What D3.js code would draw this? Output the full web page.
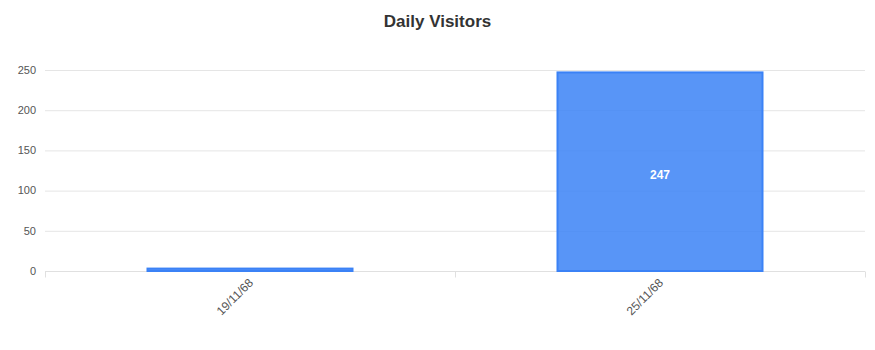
<!DOCTYPE html>
<html>
<head>
<meta charset="utf-8">
<script src="https://cdn.jsdelivr.net/npm/d3@7"></script>
<style>
  body { margin: 0; background: #fff; }
  text { font-family: "Liberation Sans", Arial, sans-serif; }
</style>
</head>
<body>
<svg id="chart"></svg>
<script>
let dates = ["19/11/68", "25/11/68"];
let visitors = [3, 247];
let yTicks = [0, 50, 100, 150, 200, 250];

let width = 875;
let height = 350;
let margin = { top: 70, right: 10, bottom: 79, left: 45 };

let svg = d3.select("#chart").attr("width", width).attr("height", height);

svg.append("text")
  .attr("x", width / 2)
  .attr("y", 27)
  .attr("text-anchor", "middle")
  .attr("font-size", 17)
  .attr("font-weight", "bold")
  .attr("fill", "#333")
  .text("Daily Visitors");

let xScale = d3.scaleBand()
  .domain(dates)
  .range([margin.left, width - margin.right])
  .paddingInner(0)
  .paddingOuter(0);

let yScale = d3.scaleLinear()
  .domain([0, 250])
  .range([height - margin.bottom, margin.top]);

// grid lines
svg.append("g")
  .selectAll("line")
  .data(yTicks.slice(1))
  .enter()
  .append("line")
  .attr("x1", margin.left)
  .attr("x2", width - margin.right)
  .attr("y1", (d) => yScale(d) + 0.5)
  .attr("y2", (d) => yScale(d) + 0.5)
  .attr("stroke", "#e5e5e5");

// y labels
svg.append("g")
  .selectAll("text")
  .data(yTicks)
  .enter()
  .append("text")
  .attr("x", 36)
  .attr("y", (d) => yScale(d))
  .attr("dy", "0.35em")
  .attr("text-anchor", "end")
  .attr("font-size", 11)
  .attr("fill", "#555")
  .text((d) => d);

// x axis line and boundary ticks
let y0 = yScale(0) + 0.5;
svg.append("line")
  .attr("x1", margin.left)
  .attr("x2", width - margin.right)
  .attr("y1", y0)
  .attr("y2", y0)
  .attr("stroke", "#e0e0e0");

let bounds = dates.map((d) => xScale(d)).concat([width - margin.right]);
svg.append("g")
  .selectAll("line")
  .data(bounds)
  .enter()
  .append("line")
  .attr("x1", (d) => d + 0.5)
  .attr("x2", (d) => d + 0.5)
  .attr("y1", y0)
  .attr("y2", y0 + 6)
  .attr("stroke", "#e0e0e0");

// bars
let barWidth = xScale.bandwidth() * 0.5;
svg.append("g")
  .selectAll("rect")
  .data(visitors)
  .enter()
  .append("rect")
  .attr("x", (d, i) => xScale(dates[i]) + (xScale.bandwidth() - barWidth) / 2)
  .attr("y", (d) => yScale(d))
  .attr("width", barWidth)
  .attr("height", (d) => yScale(0) - yScale(d))
  .attr("fill", "rgba(59,130,246,0.85)")
  .attr("stroke", "#3b82f6")
  .attr("stroke-width", 2);

// value labels (only where the bar is tall enough)
svg.append("g")
  .selectAll("text")
  .data(visitors.filter((d) => yScale(0) - yScale(d) > 20))
  .enter()
  .append("text")
  .attr("x", (d) => xScale(dates[visitors.indexOf(d)]) + xScale.bandwidth() / 2)
  .attr("y", (d) => (yScale(d) + yScale(0)) / 2 + 3)
  .attr("dy", "0.35em")
  .attr("text-anchor", "middle")
  .attr("font-size", 12)
  .attr("font-weight", "bold")
  .attr("fill", "#fff")
  .text((d) => d);

// x labels, rotated
svg.append("g")
  .selectAll("text")
  .data(dates)
  .enter()
  .append("text")
  .attr("transform", (d) => "translate(" + (xScale(d) + xScale.bandwidth() / 2 + 1) + "," + (y0 + 9) + ") rotate(-45)")
  .attr("text-anchor", "end")
  .attr("dy", "0.35em")
  .attr("font-size", 12)
  .attr("fill", "#555")
  .text((d) => d);
</script>
</body>
</html>
